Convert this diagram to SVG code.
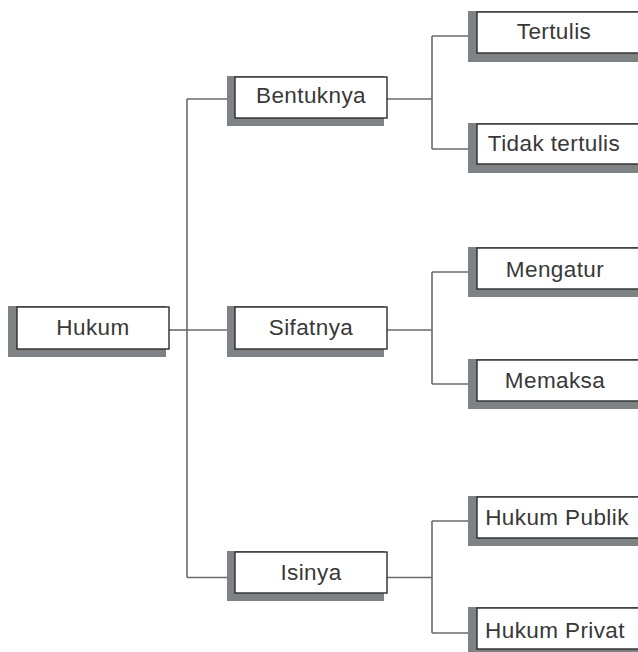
<svg xmlns="http://www.w3.org/2000/svg" width="638" height="652" viewBox="0 0 638 652">
  <style>
    .shadow { fill: #7e8285; }
    .box { fill: #ffffff; stroke: #2b2b2b; stroke-width: 1.4; }
    .label { font-family: "Liberation Sans", Arial, sans-serif; font-size: 22.5px; letter-spacing: 0.4px; fill: #383838; text-anchor: middle; }
    .conn { fill: none; stroke: #6a6a6a; stroke-width: 1.6; }
  </style>
  <rect width="638" height="652" fill="#ffffff"/>

  <!-- connectors -->
  <g id="connectors" class="conn">
    <path d="M169 330 H187"/>
    <path d="M187 99 V577.5"/>
    <path d="M187 99 H227"/>
    <path d="M187 330 H227"/>
    <path d="M187 577.5 H227"/>

    <path d="M387 99 H432"/>
    <path d="M432 36 V149"/>
    <path d="M432 36 H468"/>
    <path d="M432 149 H468"/>

    <path d="M387 330 H432"/>
    <path d="M432 272 V384"/>
    <path d="M432 272 H468"/>
    <path d="M432 384 H468"/>

    <path d="M387 577.5 H432"/>
    <path d="M432 521 V633"/>
    <path d="M432 521 H468"/>
    <path d="M432 633 H468"/>
  </g>

  <!-- root -->
  <g id="hukum">
    <rect class="shadow" x="8" y="306" width="158" height="51"/>
    <rect class="box" x="17" y="307" width="152" height="42"/>
    <text class="label" x="93" y="335">Hukum</text>
  </g>

  <!-- second level -->
  <g id="bentuknya">
    <rect class="shadow" x="227" y="76" width="157" height="50"/>
    <rect class="box" x="235" y="77" width="152" height="41"/>
    <text class="label" x="311" y="103">Bentuknya</text>
  </g>
  <g id="sifatnya">
    <rect class="shadow" x="227" y="306" width="157" height="51"/>
    <rect class="box" x="235" y="307" width="152" height="42"/>
    <text class="label" x="311" y="335">Sifatnya</text>
  </g>
  <g id="isinya">
    <rect class="shadow" x="227" y="551" width="157" height="50"/>
    <rect class="box" x="235" y="552" width="152" height="41"/>
    <text class="label" x="311" y="580">Isinya</text>
  </g>

  <!-- third level (boxes run past the right edge) -->
  <g id="tertulis">
    <rect class="shadow" x="468" y="11" width="200" height="51"/>
    <rect class="box" x="477" y="12" width="200" height="41"/>
    <text class="label" x="554" y="39">Tertulis</text>
  </g>
  <g id="tidak-tertulis">
    <rect class="shadow" x="468" y="123" width="200" height="50"/>
    <rect class="box" x="477" y="124" width="200" height="40"/>
    <text class="label" x="554" y="151">Tidak tertulis</text>
  </g>
  <g id="mengatur">
    <rect class="shadow" x="468" y="247" width="200" height="50"/>
    <rect class="box" x="477" y="248" width="200" height="41"/>
    <text class="label" x="555" y="277">Mengatur</text>
  </g>
  <g id="memaksa">
    <rect class="shadow" x="468" y="359" width="200" height="50"/>
    <rect class="box" x="477" y="360" width="200" height="41"/>
    <text class="label" x="555" y="388">Memaksa</text>
  </g>
  <g id="hukum-publik">
    <rect class="shadow" x="468" y="496" width="200" height="50"/>
    <rect class="box" x="477" y="497" width="200" height="41"/>
    <text class="label" x="557" y="525">Hukum Publik</text>
  </g>
  <g id="hukum-privat">
    <rect class="shadow" x="468" y="607" width="200" height="50"/>
    <rect class="box" x="477" y="608" width="200" height="41"/>
    <text class="label" x="555" y="638">Hukum Privat</text>
  </g>
</svg>
